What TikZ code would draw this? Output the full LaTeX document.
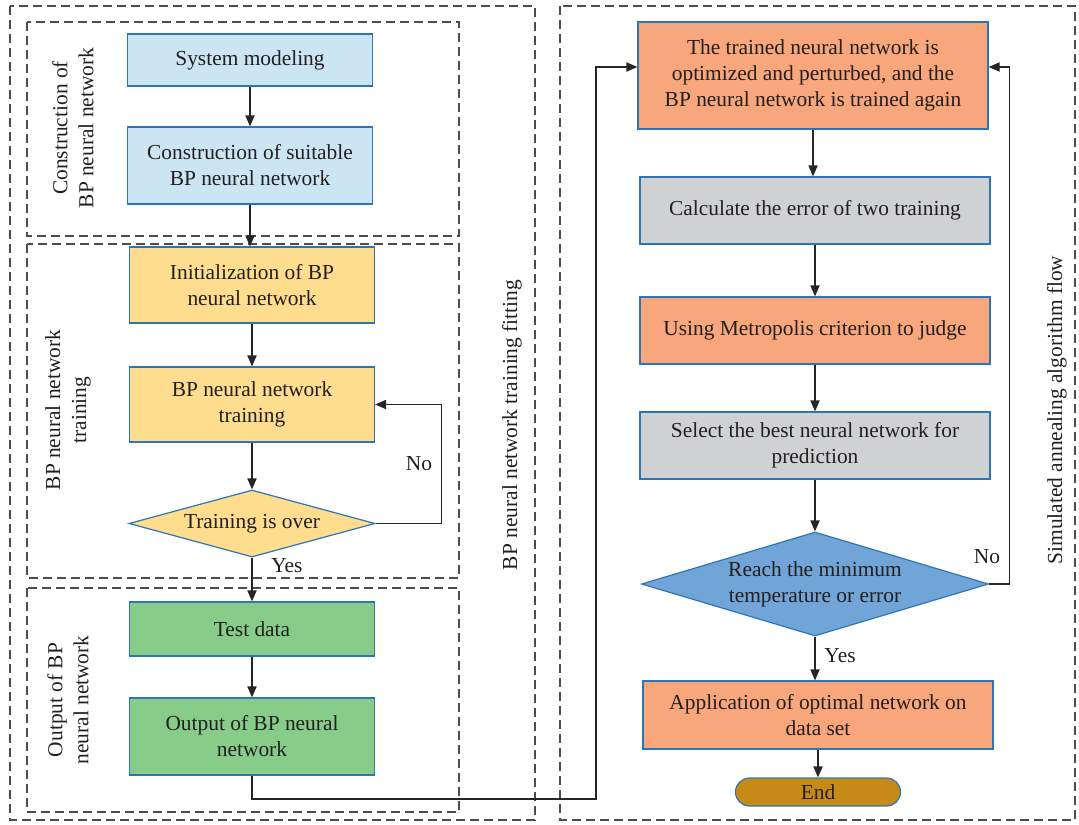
\documentclass[tikz,border=0pt]{standalone}
\usepackage{fontspec}
\setmainfont{Liberation Serif}
\usetikzlibrary{shapes.geometric,arrows.meta}
\definecolor{txt}{HTML}{231F20}
\definecolor{edge}{HTML}{2E75B6}
\definecolor{dashgray}{HTML}{4D4D4D}
\definecolor{linegray}{HTML}{262626}
\definecolor{cblue}{HTML}{CCE5F3}
\definecolor{cyellow}{HTML}{FFDD8F}
\definecolor{cgreen}{HTML}{88CC8A}
\definecolor{corange}{HTML}{F7A77B}
\definecolor{cgray}{HTML}{D0D1D3}
\definecolor{cdiamond}{HTML}{72A5D7}
\definecolor{cend}{HTML}{C88A16}

\begin{document}
\begin{tikzpicture}[x=0.5pt, y=-0.5pt,
  every node/.style={font=\fontsize{10.7}{13}\selectfont, text=txt, align=center},
  box/.style={rectangle, draw=edge, line width=0.6pt, inner sep=0pt},
  leftbox/.style={box, minimum width=122.5pt},
  rightbox/.style={box, minimum width=175pt},
  decision/.style={diamond, draw=edge, line width=0.6pt, aspect=3.3, inner sep=0pt},
  group/.style={draw=dashgray, dash pattern=on 4.5pt off 2.5pt, line width=0.6pt},
  line/.style={draw=linegray, line width=0.6pt, -{Triangle[length=5.5pt,width=4.6pt]}}]
\useasboundingbox (0,0) rectangle (1079,824);

%frames
\draw[group] (10,6) rectangle (535,820);
\draw[group] (27,22) rectangle (459,236);
\draw[group] (27,244) rectangle (459,578);
\draw[group] (27,588) rectangle (459,812);
\draw[group] (560,6) rectangle (1075,820);

%frame labels
\node[rotate=90] (labCons) at (73,128) {Construction of\\BP neural network};
\node[rotate=90] (labTrain) at (68,410) {BP neural network\\training};
\node[rotate=90] (labOut) at (68,700) {Output of BP\\neural network};
\node[rotate=90] (labFit) at (512,425) {BP neural network training fitting};
\node[rotate=90] (labSA) at (1057,410) {Simulated annealing algorithm flow};

%left column
\node[leftbox, fill=cblue, minimum height=26pt] (sys) at (250,60) {System modeling};
\node[leftbox, fill=cblue, minimum height=38.5pt] (cons) at (250,165.5) {Construction of suitable\\BP neural network};
\node[leftbox, fill=cyellow, minimum height=38pt] (init) at (252,285) {Initialization of BP\\neural network};
\node[leftbox, fill=cyellow, minimum height=37.5pt] (train) at (252,404.5) {BP neural network\\training};
\node[decision, fill=cyellow, minimum width=123pt, minimum height=33.5pt] (over) at (252,523.5) {Training is over};
\node[leftbox, fill=cgreen, minimum height=27pt] (test) at (252,629) {Test data};
\node[leftbox, fill=cgreen, minimum height=38.5pt] (out) at (252,736.5) {Output of BP neural\\network};
\node (yes1) at (287,566) {Yes};
\node (no1) at (419,464) {No};
\coordinate (jump) at (596,799);

\draw[line] (sys) -- (sys |- cons.north);
\draw[line] (cons) -- (cons |- init.north);
\draw[line] (init) -- (train);
\draw[line] (train) -- (over);
\draw[line] (over) -- (test);
\draw[line] (over.east) -- ++(66,0) |- (train.east);
\draw[line] (test) -- (out);

%right column
\node[rightbox, fill=corange, minimum height=53.5pt] (trained) at (813,75.5) {The trained neural network is\\optimized and perturbed, and the\\BP neural network is trained again};
\node[rightbox, fill=cgray, minimum height=33.5pt] (calc) at (815,210.5) {Calculate the error of two training};
\node[rightbox, fill=corange, minimum height=33.5pt] (metro) at (815,330.5) {Using Metropolis criterion to judge};
\node[rightbox, fill=cgray, minimum height=33.5pt] (select) at (815,445.5) {Select the best neural network for\\prediction};
\node[decision, fill=cdiamond, minimum width=173.5pt, minimum height=52pt] (reach) at (815,584) {Reach the minimum\\temperature or error};
\node[rightbox, fill=corange, minimum height=34pt] (appl) at (818,715) {Application of optimal network on\\data set};
\node[box, fill=cend, rounded corners=7pt, minimum width=82.5pt, minimum height=14pt] (end) at (818,792) {End};
\node (yes2) at (840,656) {Yes};
\node (no2) at (987,557) {No};

\draw[line] (trained) -- (trained |- calc.north);
\draw[line] (calc) -- (calc |- metro.north);
\draw[line] (metro) -- (metro |- select.north);
\draw[line] (select) -- (select |- reach.north);
\draw[line] (reach.south) -- (reach.south |- appl.north);
\draw[line] (appl) -- (end);
\draw[line] (reach.east) -- ++(20,0) |- ([yshift=4.25pt]trained.east);

%link between the two parts
\draw[line] (out.south) |- (jump) |- ([yshift=4.25pt]trained.west);
\end{tikzpicture}
\end{document}
